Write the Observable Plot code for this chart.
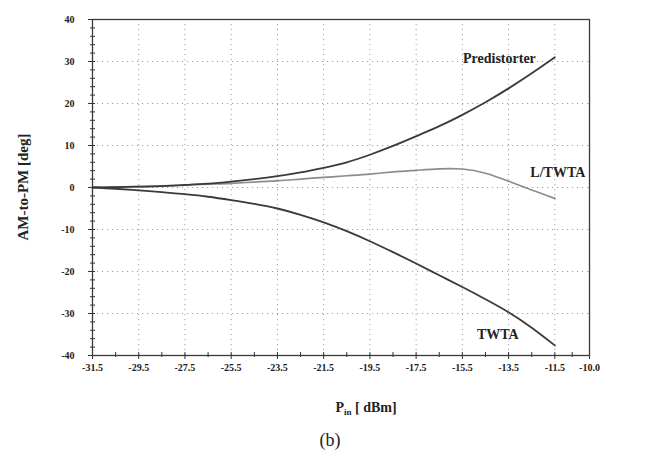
<!DOCTYPE html>
<html><head><meta charset="utf-8">
<script src="https://cdn.jsdelivr.net/npm/d3@7"></script>
<script src="https://cdn.jsdelivr.net/npm/@observablehq/plot@0.6"></script>
<style>body{margin:0;background:#fff} svg{display:block}</style>
</head><body><div id="chart"></div>
<script>
const pin = [-31.5,-30.5,-29.5,-28.5,-27.5,-26.5,-25.5,-24.5,-23.5,-22.5,-21.5,-20.5,-19.5,-18.5,-17.5,-16.5,-15.5,-14.5,-13.5,-12.5,-11.5];
const predistorter = [0,0.1,0.2,0.35,0.6,0.9,1.4,2.0,2.7,3.6,4.7,6.0,7.8,9.9,12.2,14.6,17.3,20.3,23.6,27.2,31.0];
const lTwta = [0,0.1,0.2,0.4,0.6,0.8,1.0,1.3,1.6,2.0,2.4,2.8,3.2,3.7,4.1,4.45,4.4,3.4,1.5,-0.6,-2.6];
const twta = [0,-0.3,-0.7,-1.1,-1.6,-2.2,-3.0,-3.9,-5.0,-6.5,-8.3,-10.4,-12.8,-15.4,-18.1,-20.9,-23.7,-26.6,-29.7,-33.4,-37.6];
const seriesNames = ["Predistorter","L/TWTA","TWTA"];
const xTicks = [-31.5,-29.5,-27.5,-25.5,-23.5,-21.5,-19.5,-17.5,-15.5,-13.5,-11.5,-10.0];
const xMinor = [-30.5,-28.5,-26.5,-24.5,-22.5,-20.5,-18.5,-16.5,-14.5,-12.5,-10.75];
const yTicks = [-40,-30,-20,-10,0,10,20,30,40];
const yMinor = [-38,-36,-34,-32,-28,-26,-24,-22,-18,-16,-14,-12,-8,-6,-4,-2,2,4,6,8,12,14,16,18,22,24,26,28,32,34,36,38];
const xLabel = ["P","in"," [ dBm]"];
const yLabel = "AM-to-PM [deg]";
const caption = "(b)";

const W = 659, H = 466, mL = 92, mR = 70, mT = 19, mB = 111;
const plotW = W - mL - mR, plotH = H - mT - mB;
const toRows = (vals) => pin.map((x, i) => ({x, y: vals[i]}));
const allSeries = [predistorter, lTwta, twta];
const labels = seriesNames.map((name, i) => ({name, x: pin[pin.length-1], y: allSeries[i][allSeries[i].length-1]}));
const lblDx = [-19, 3, -57], lblDy = [1, -26, -11], lblAnchor = ["end","middle","middle"];
const serif = "'Liberation Serif','DejaVu Serif',serif";
const grid = {stroke: "#a0a0a0", strokeOpacity: 1, strokeDasharray: "1.2,3.8", strokeWidth: 1};

const chart = Plot.plot({
  width: W, height: H,
  marginLeft: mL, marginRight: mR, marginTop: mT, marginBottom: mB,
  style: {fontFamily: serif, fontSize: "10px", fontWeight: "bold", color: "#222", background: "#fff"},
  x: {domain: [-31.5, -10], label: null},
  y: {domain: [-40, 40], label: null},
  marks: [
    Plot.gridX(xTicks.slice(1, -1), grid),
    Plot.gridY(yTicks.slice(1, -1), grid),
    Plot.axisX(xTicks, {tickSize: 4, tickPadding: 4, tickFormat: d => d.toFixed(1), stroke: "#333"}),
    Plot.axisX(xMinor, {tickSize: 2, text: null, stroke: "#333"}),
    Plot.tickX(xTicks.concat(xMinor), {x: d => d, insetTop: plotH - 3, stroke: "#333"}),
    Plot.axisY(yTicks, {tickSize: 4, tickPadding: 14, tickFormat: d => String(d), stroke: "#333"}),
    Plot.axisY(yMinor, {tickSize: 2, text: null, stroke: "#333"}),
    Plot.tickY(yTicks.concat(yMinor), {y: d => d, insetRight: plotW - 3, stroke: "#333"}),
    Plot.frame({stroke: "#3a3a3a", strokeWidth: 1.3}),
    Plot.line(toRows(lTwta), {x: "x", y: "y", stroke: "#8c8c8c", strokeWidth: 1.7, curve: "natural"}),
    Plot.line(toRows(predistorter), {x: "x", y: "y", stroke: "#3a3a3a", strokeWidth: 1.8, curve: "natural"}),
    Plot.line(toRows(twta), {x: "x", y: "y", stroke: "#3a3a3a", strokeWidth: 1.8, curve: "natural"}),
    ...labels.map((l, i) => Plot.text([l], {x: "x", y: "y", text: "name", dx: lblDx[i], dy: lblDy[i], textAnchor: lblAnchor[i], fontSize: 14, fontWeight: "bold", fill: "#222"}))
  ]
});

const svg = d3.select(chart);
svg.append("text")
  .attr("transform", "translate(25,187) rotate(-90)")
  .attr("text-anchor", "middle").attr("dominant-baseline", "middle")
  .attr("font-family", serif).attr("font-size", 15).attr("font-weight", "bold").attr("fill", "#222")
  .text(yLabel);
const xl = svg.append("text")
  .attr("x", 366).attr("y", 412).attr("text-anchor", "middle")
  .attr("font-family", serif).attr("font-size", 14).attr("font-weight", "bold").attr("fill", "#222");
xl.append("tspan").text(xLabel[0]);
xl.append("tspan").attr("font-size", 9).attr("dy", 3).text(xLabel[1]);
xl.append("tspan").attr("dy", -3).text(xLabel[2]);
svg.append("text")
  .attr("x", 330).attr("y", 446).attr("text-anchor", "middle")
  .attr("font-family", serif).attr("font-size", 18).attr("font-weight", "normal").attr("fill", "#222")
  .text(caption);
document.getElementById("chart").appendChild(chart);
</script>
</body></html>
